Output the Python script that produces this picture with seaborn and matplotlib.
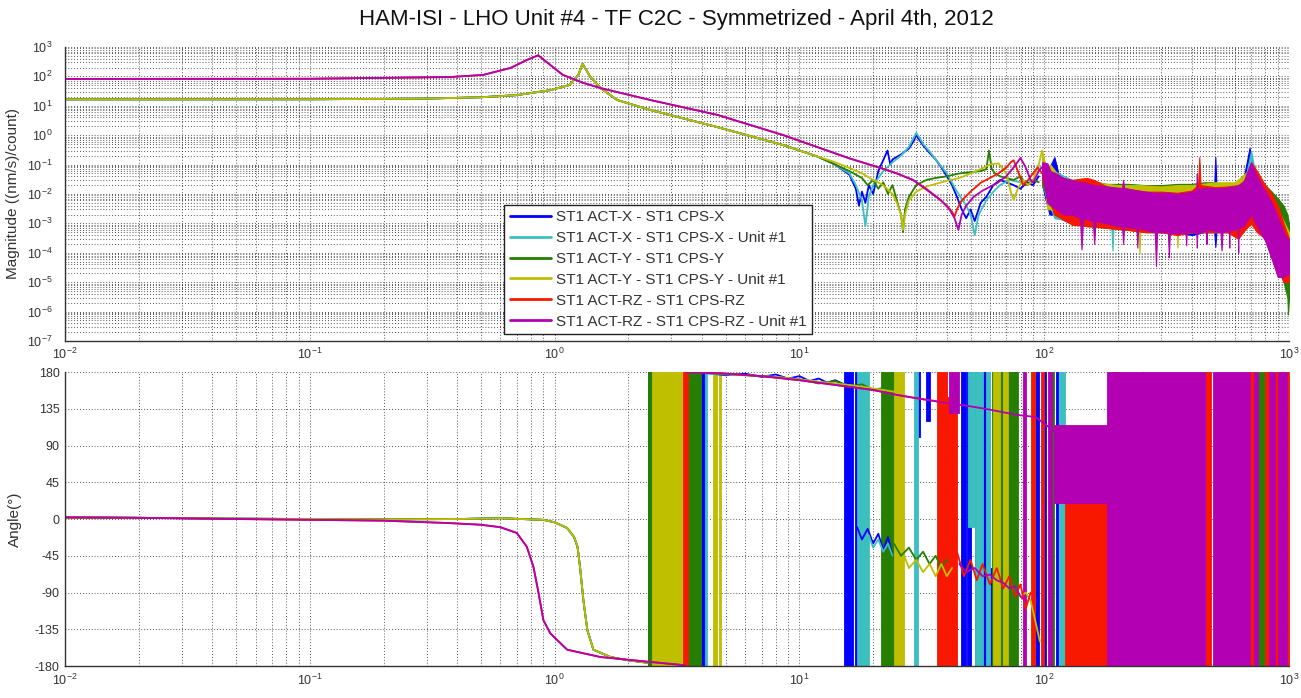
import numpy as np
import matplotlib
matplotlib.use("Agg")
import matplotlib.pyplot as plt
from matplotlib.ticker import LogLocator, FixedLocator, NullFormatter
from matplotlib.lines import Line2D
import seaborn as sns

sns.set_theme(style="white")
plt.rcParams['font.family'] = ['Liberation Sans', 'DejaVu Sans']
plt.rcParams['mathtext.default'] = 'regular'
plt.rcParams['axes.unicode_minus'] = False

# ---- series ----
labels = ["ST1 ACT-X - ST1 CPS-X", "ST1 ACT-X - ST1 CPS-X - Unit #1",
          "ST1 ACT-Y - ST1 CPS-Y", "ST1 ACT-Y - ST1 CPS-Y - Unit #1",
          "ST1 ACT-RZ - ST1 CPS-RZ", "ST1 ACT-RZ - ST1 CPS-RZ - Unit #1"]
colors = ["#0000ff", "#3bbfbf", "#267f00", "#bfbf00", "#f81800", "#b300b3"]

# ---- axis ticks ----
freq_ticks = [1e-2, 1e-1, 1e0, 1e1, 1e2, 1e3]
mag_ticks = [1e-7, 1e-6, 1e-5, 1e-4, 1e-3, 1e-2, 1e-1, 1e0, 1e1, 1e2, 1e3]
phase_ticks = [-180, -135, -90, -45, 0, 45, 90, 135, 180]

# ---- magnitude, shared low-frequency part (Hz, (nm/s)/count) ----
xy_mag_f = [0.01, 0.1, 0.3, 0.5, 0.7, 0.96, 1.15, 1.25, 1.3, 1.4, 1.54, 1.8, 2.46, 4.6, 8.6, 11.8]
xy_mag = [16.5, 16.6, 17.5, 19.5, 23, 34, 51, 112, 270, 95, 40, 15.7, 7.2, 1.9, 0.46, 0.19]
rz_mag_f = [0.01, 0.1, 0.374, 0.51, 0.66, 0.77, 0.857, 0.96, 1.08, 1.31, 1.54, 2.46, 4.62, 8.6, 16.1]
rz_mag = [82, 83, 95, 112, 193, 361, 520, 244, 112, 60, 40, 15.7, 4.9, 1.0, 0.16]

# ---- magnitude, 14-100 Hz ----
blue_mid_f = [14, 16, 17, 17.5, 18, 18.6, 19.2, 20, 21, 22.9, 23.5, 24, 26, 28, 29.5, 30, 30.5, 32, 34, 36,
              38, 40, 42, 44, 46, 48, 50, 52, 55, 58, 62, 66, 70, 75, 80, 85, 90, 95]
blue_mid = [0.1, 0.045, 0.015, 0.004, 0.012, 0.005, 0.02, 0.01, 0.06, 0.3, 0.1, 0.15, 0.22, 0.35, 0.7, 1.1,
            0.8, 0.45, 0.25, 0.15, 0.08, 0.04, 0.02, 0.008, 0.003, 0.0015, 0.003, 0.0012, 0.005, 0.008, 0.02,
            0.03, 0.025, 0.02, 0.015, 0.025, 0.02, 0.04]
cyan_mid_f = [14, 16, 17, 18, 18.6, 19.2, 20, 22, 24, 26, 28, 30, 31, 32, 34, 36, 40, 44, 48, 50, 52, 54,
              58, 62, 66, 72, 80, 90]
cyan_mid = [0.1, 0.05, 0.02, 0.006, 0.0008, 0.008, 0.02, 0.06, 0.12, 0.2, 0.4, 1.2, 0.8, 0.5, 0.28, 0.15,
            0.05, 0.012, 0.004, 0.002, 0.0004, 0.002, 0.006, 0.012, 0.02, 0.03, 0.025, 0.03]
green_mid_f = [14, 16, 18, 19, 20, 21, 22, 23, 24, 25, 26, 26.5, 27, 28, 30, 33, 36, 40, 45, 50, 55, 58,
               59.5, 61, 63, 66, 70, 75, 80, 85, 90, 95]
green_mid = [0.1, 0.06, 0.035, 0.02, 0.03, 0.015, 0.025, 0.01, 0.02, 0.006, 0.002, 0.0005, 0.003, 0.008,
             0.02, 0.03, 0.035, 0.04, 0.05, 0.055, 0.06, 0.07, 0.3, 0.07, 0.05, 0.04, 0.035, 0.03, 0.04,
             0.02, 0.03, 0.025]
yellow_mid_f = [14, 16, 18, 20, 22, 24, 25, 26, 26.5, 27, 28, 30, 33, 36, 40, 45, 50, 55, 60, 65, 70, 73,
                75, 78, 82, 86, 90, 95, 98]
yellow_mid = [0.12, 0.077, 0.05, 0.03, 0.02, 0.01, 0.005, 0.002, 0.0006, 0.002, 0.006, 0.012, 0.018, 0.022,
              0.028, 0.035, 0.05, 0.07, 0.1, 0.11, 0.05, 0.012, 0.0063, 0.015, 0.03, 0.02, 0.03, 0.1, 0.3]
red_mid_f = [21.4, 25, 29, 33, 37, 40, 42, 43, 44, 46, 50, 55, 60, 65, 70, 73, 75, 78, 82, 86, 90, 94, 98]
red_mid = [0.077, 0.05, 0.03, 0.015, 0.007, 0.004, 0.0025, 0.0017, 0.003, 0.006, 0.012, 0.024, 0.035, 0.05,
           0.08, 0.12, 0.14, 0.06, 0.02, 0.03, 0.05, 0.08, 0.05]
magenta_mid_f = [21.4, 25, 29.2, 33, 37.7, 41, 43, 44.6, 46, 48, 51.4, 56, 64.4, 70, 75, 80, 84, 88, 90, 95, 100]
magenta_mid = [0.077, 0.05, 0.03, 0.014, 0.0063, 0.003, 0.0015, 0.0006, 0.002, 0.004, 0.0079, 0.013, 0.0237,
               0.04, 0.08, 0.168, 0.08, 0.03, 0.024, 0.06, 0.1]

# ---- magnitude, noisy 100-1000 Hz envelopes ----
blue_band_f = [98, 105, 110, 115, 130, 160, 200, 260, 300, 350, 400, 450, 495, 500, 505, 540, 600, 650, 690,
               710, 730, 800, 900, 1000]
blue_band_lo = [0.02, 0.002, 0.002, 0.0015, 0.001, 0.0008, 0.0007, 0.0006, 0.0005, 0.0005, 0.0004, 0.0005,
                0.0005, 0.00016, 0.0005, 0.0005, 0.0005, 0.0007, 0.001, 0.001, 0.0008, 0.0003, 0.00002, 0.00002]
blue_band_hi = [0.05, 0.08, 0.18, 0.04, 0.025, 0.02, 0.016, 0.013, 0.013, 0.012, 0.014, 0.015, 0.02, 0.18,
                0.02, 0.016, 0.018, 0.03, 0.37, 0.1, 0.05, 0.015, 0.002, 0.0002]
cyan_band_f = [98, 110, 130, 160, 188, 190, 192, 230, 300, 400, 500, 600, 660, 700, 720, 760, 800, 900, 1000]
cyan_band_lo = [0.02, 0.0015, 0.0012, 0.0009, 0.0008, 0.00012, 0.0008, 0.0007, 0.0006, 0.0005, 0.0005,
                0.0006, 0.0008, 0.001, 0.001, 0.0006, 0.0003, 0.00003, 0.00002]
cyan_band_hi = [0.04, 0.06, 0.03, 0.02, 0.016, 0.016, 0.016, 0.014, 0.012, 0.012, 0.014, 0.016, 0.03, 0.3,
                0.08, 0.03, 0.015, 0.002, 0.0003]
green_band_f = [98, 110, 130, 150, 180, 220, 260, 300, 350, 400, 450, 500, 560, 620, 680, 720, 760, 800, 850,
                900, 950, 985, 990, 1000]
green_band_lo = [0.02, 0.002, 0.0012, 0.0008, 0.0007, 0.0006, 0.0005, 0.0005, 0.0006, 0.0005, 0.0006,
                 0.0007, 0.0006, 0.0007, 0.0009, 0.001, 0.0005, 0.0003, 0.0001, 0.00003, 0.00001, 0.000003,
                 0.0000008, 0.000003]
green_band_hi = [0.05, 0.03, 0.025, 0.03, 0.022, 0.022, 0.02, 0.02, 0.022, 0.022, 0.025, 0.025, 0.022, 0.025,
                 0.05, 0.06, 0.03, 0.02, 0.012, 0.007, 0.004, 0.002, 0.0015, 0.001]
yellow_band_f = [98, 103, 106, 115, 130, 145, 160, 200, 243, 245, 247, 300, 348, 350, 352, 400, 500, 600, 680,
                 720, 800, 900, 1000]
yellow_band_lo = [0.1, 0.003, 0.003, 0.002, 0.0015, 0.001, 0.0009, 0.0007, 0.0006, 0.0001, 0.0006, 0.0005,
                  0.0005, 0.00015, 0.0005, 0.0005, 0.0006, 0.0006, 0.0008, 0.001, 0.0003, 0.00003, 0.00002]
yellow_band_hi = [0.3, 0.05, 0.1, 0.04, 0.03, 0.035, 0.025, 0.02, 0.02, 0.02, 0.02, 0.018, 0.02, 0.02, 0.02,
                  0.02, 0.025, 0.025, 0.06, 0.04, 0.015, 0.003, 0.0005]
red_band_f = [98, 110, 130, 150, 160, 180, 220, 260, 300, 350, 400, 425, 430, 435, 500, 560, 620, 660, 700,
              740, 800, 850, 900, 950, 1000]
red_band_lo = [0.03, 0.002, 0.0009, 0.0008, 0.0008, 0.0007, 0.0006, 0.0005, 0.0005, 0.0004, 0.0005, 0.0005,
               0.0005, 0.0005, 0.0005, 0.0005, 0.0003, 0.0006, 0.001, 0.0005, 0.0003, 0.0001, 0.00003,
               0.00001, 0.00001]
red_band_hi = [0.06, 0.04, 0.03, 0.035, 0.03, 0.018, 0.015, 0.012, 0.012, 0.011, 0.013, 0.02, 0.18, 0.02,
               0.017, 0.018, 0.02, 0.03, 0.12, 0.06, 0.02, 0.01, 0.004, 0.001, 0.0003]
magenta_band_f = [98, 103, 106, 112, 120, 130, 140, 142, 144, 158, 160, 162, 180, 200, 208, 210, 212, 230,
                  238, 240, 242, 260, 283, 286, 289, 300, 320, 323, 326, 350, 378, 380, 382, 400, 418, 420,
                  422, 430, 458, 460, 462, 480, 525, 530, 535, 568, 570, 572, 600, 618, 620, 622, 650, 700,
                  730, 800, 850, 900, 950, 1000]
magenta_band_lo = [0.05, 0.005, 0.004, 0.003, 0.002, 0.002, 0.0015, 0.00013, 0.0015, 0.0012, 0.0002, 0.0012,
                   0.001, 0.0008, 0.0008, 0.0002, 0.0008, 0.0007, 0.0007, 0.00015, 0.0007, 0.0006, 0.0005,
                   0.000035, 0.0005, 0.0005, 0.0005, 0.00007, 0.0005, 0.00045, 0.0005, 0.00018, 0.0005,
                   0.0005, 0.0005, 0.00015, 0.0005, 0.0005, 0.0006, 0.0002, 0.0006, 0.0006, 0.0005, 0.00012,
                   0.0005, 0.0006, 0.00015, 0.0006, 0.0006, 0.0007, 0.0001, 0.0007, 0.0008, 0.002, 0.001,
                   0.00025, 0.00006, 0.000015, 0.000015, 0.00002]
magenta_band_hi = [0.12, 0.11, 0.06, 0.05, 0.035, 0.03, 0.025, 0.025, 0.025, 0.02, 0.02, 0.02, 0.018, 0.016,
                   0.016, 0.03, 0.016, 0.014, 0.013, 0.013, 0.013, 0.012, 0.011, 0.011, 0.011, 0.011, 0.011,
                   0.011, 0.011, 0.01, 0.011, 0.011, 0.011, 0.012, 0.014, 0.05, 0.014, 0.015, 0.016, 0.016,
                   0.016, 0.016, 0.016, 0.016, 0.016, 0.017, 0.017, 0.017, 0.018, 0.02, 0.02, 0.02, 0.025,
                   0.12, 0.05, 0.012, 0.005, 0.0016, 0.0005, 0.00025]

# ---- phase (deg), clean low-frequency part ----
xy_ph_f = [0.01, 0.02, 0.05, 0.1, 0.2, 0.4, 0.6, 0.9, 1.0, 1.125, 1.2, 1.24, 1.27, 1.31, 1.36, 1.44, 1.69,
           2.0, 2.4]
xy_ph = [2, 1.5, 0.5, 0, -0.5, 0, 1, -1, -4, -11, -22, -34, -59, -99, -136, -160, -169, -173, -176]
rz_ph_f = [0.01, 0.02, 0.05, 0.1, 0.2, 0.374, 0.5, 0.6, 0.7, 0.77, 0.82, 0.86, 0.9, 0.96, 1.125, 1.54, 2.46, 3.4]
rz_ph = [2, 1.5, 0, -1, -2, -5, -7, -10, -17, -34, -59, -91, -124, -140, -160, -169, -175, -179]

# ---- phase after wrapping, upper branch ----
blue_top_f = [4.12, 5, 6, 7, 8, 9, 10, 11, 12, 13, 14, 15.2]
blue_top = [179, 176, 178, 174, 177, 172, 175, 169, 172, 167, 170, 165]
cyan_top_f = [4.2, 6, 8, 10, 12, 14, 16, 17.2]
cyan_top = [178, 176, 174, 171, 168, 166, 164, 163]
green_top_f = [3.98, 5, 7, 10, 12, 14, 16, 18, 20, 21.5]
green_top = [179, 178, 175, 171, 166, 169, 162, 165, 158, 160]
yellow_top_f = [4.8, 6, 8, 10, 12, 15, 18, 20, 22, 24.3]
yellow_top = [178, 176, 174, 171, 168, 165, 162, 160, 158, 156]
red_top_f = [3.5, 5, 7, 10, 15, 20, 25, 30, 36.6]
red_top = [180, 178, 175, 170, 163, 158, 152, 148, 144]
magenta_top_f = [3.45, 5, 7, 10, 15, 20, 25, 30, 40, 50, 60, 70, 80, 92, 105, 125]
magenta_top = [180, 178, 175, 170, 163, 158, 152, 148, 142, 138, 134, 130, 127, 125, 112, 97]

# ---- phase, lower branches ----
blue_low_f = [17.2, 18, 19, 20, 21, 22, 23, 24]
blue_low = [-10, -25, -12, -30, -18, -38, -22, -45]
cyan_low_f = [19.2, 20, 21, 22, 23, 24]
cyan_low = [-20, -35, -25, -40, -30, -45]
green_low_f = [24.3, 26, 28, 30, 32, 34, 36, 38, 40]
green_low = [-30, -45, -35, -50, -40, -55, -45, -60, -50]
yellow_low_f = [26.8, 28, 30, 32, 34, 36, 38, 40, 42, 76, 80, 84, 88, 92, 96]
yellow_low = [-45, -60, -50, -65, -55, -70, -55, -70, -60, np.nan, -95, -90, -100, -125, -150]
red_low_f = [44, 47, 50, 53, 56, 60, 64, 68, 72, 76, 80, 84, 88]
red_low = [-40, -70, -50, -75, -55, -80, -60, -85, -70, -95, -80, -110, -90]
magenta_low_f = [45, 48, 52, 56, 60, 64, 68, 72, 76, 80, 84]
magenta_low = [-55, -65, -60, -70, -68, -75, -78, -85, -82, -95, -100]

# ---- phase, wrapped regions: (f start, f end, lower deg, upper deg) ----
blue_ph_bands = [(2.40, 2.48, -180, 180), (3.98, 4.12, -180, 180), (15.2, 16.6, -180, 180),
                 (16.8, 17.2, -180, 180), (30, 31, 100, 180), (33, 34, 120, 180), (45.5, 48, -180, 180),
                 (48.5, 50, -180, 180), (52, 53, -180, 180), (56, 58, -180, 180), (57, 62, -180, -60),
                 (64, 66, -180, 180), (70, 72, -180, 180), (74, 77, -180, 180), (92, 95, -180, 180),
                 (100, 102, -180, 180), (112, 114, -180, 180), (250, 253, -180, 180), (920, 935, -180, 180)]
cyan_ph_bands = [(2.48, 2.52, -180, 180), (3.60, 3.64, -180, 180), (3.84, 3.88, -180, 180),
                 (4.12, 4.2, -180, 180), (17.2, 19.2, -180, 180), (29.5, 30.5, -180, 180),
                 (49, 52, -10, 180), (52, 56, -180, 180), (58, 60, -180, 180), (90, 92, -180, 180),
                 (115, 122, -180, 180)]
green_ph_bands = [(2.40, 2.52, -180, 180), (3.50, 3.98, -180, 180), (21.5, 24.3, -180, 180),
                  (61, 64, -180, 180), (66, 68, -180, 180), (72, 78, -180, 180), (105, 110, -180, 180),
                  (190, 200, -180, 180), (745, 800, -180, 180)]
yellow_ph_bands = [(2.50, 3.33, -180, 180), (4.45, 4.6, -180, 180), (4.7, 4.8, -180, 180),
                   (24.3, 26.8, -180, 180), (62, 66, -180, 180), (68, 71, -180, 180), (180, 200, -180, 100)]
red_ph_bands = [(3.33, 3.50, -180, 180), (36.6, 40.2, -180, 180), (40.2, 44, -180, 150),
                (88, 92, -180, 180), (97, 100, -180, 180), (122, 180, -180, 30), (455, 478, -180, 180),
                (690, 720, -180, 180), (800, 830, -180, 180), (880, 905, -180, 180), (985, 1000, -180, 180)]
magenta_ph_bands = [(41, 45, 130, 180), (82, 84, -180, 180), (104, 108, -180, 180), (110, 180, 20, 115),
                    (180, 455, -180, 180), (490, 690, -180, 180), (720, 745, -180, 180),
                    (830, 880, -180, 180), (905, 985, -180, 180)]

mag_data = [
    (xy_mag_f + blue_mid_f, xy_mag + blue_mid, blue_band_f, blue_band_lo, blue_band_hi),
    (xy_mag_f + cyan_mid_f, xy_mag + cyan_mid, cyan_band_f, cyan_band_lo, cyan_band_hi),
    (xy_mag_f + green_mid_f, xy_mag + green_mid, green_band_f, green_band_lo, green_band_hi),
    (xy_mag_f + yellow_mid_f, xy_mag + yellow_mid, yellow_band_f, yellow_band_lo, yellow_band_hi),
    (rz_mag_f + red_mid_f, rz_mag + red_mid, red_band_f, red_band_lo, red_band_hi),
    (rz_mag_f + magenta_mid_f, rz_mag + magenta_mid, magenta_band_f, magenta_band_lo, magenta_band_hi),
]
ph_data = [
    ([(xy_ph_f, xy_ph), (blue_top_f, blue_top), (blue_low_f, blue_low)], blue_ph_bands),
    ([(xy_ph_f, xy_ph), (cyan_top_f, cyan_top), (cyan_low_f, cyan_low)], cyan_ph_bands),
    ([(xy_ph_f, xy_ph), (green_top_f, green_top), (green_low_f, green_low)], green_ph_bands),
    ([(xy_ph_f, xy_ph), (yellow_top_f, yellow_top), (yellow_low_f, yellow_low)], yellow_ph_bands),
    ([(rz_ph_f, rz_ph), (red_top_f, red_top), (red_low_f, red_low)], red_ph_bands),
    ([(rz_ph_f, rz_ph), (magenta_top_f, magenta_top), (magenta_low_f, magenta_low)], magenta_ph_bands),
]

fig = plt.figure(figsize=(13.01, 6.98), dpi=100)
ax_mag = fig.add_axes([0.05, 0.5115, 0.9408, 0.4212])
ax_ph = fig.add_axes([0.05, 0.0458, 0.9408, 0.4212])

ax_mag.set_xscale("log")
ax_mag.set_yscale("log")
ax_ph.set_xscale("log")

lw = 1.3
for color, (f, m, bf, blo, bhi) in zip(colors, mag_data):
    sns.lineplot(x=f, y=m, ax=ax_mag, color=color, lw=lw, sort=False, estimator=None, legend=False)
    ax_mag.fill_between(bf, blo, bhi, facecolor=color, edgecolor=color, lw=0.8)

for color, (segs, bands) in zip(colors, ph_data):
    for f, p in segs:
        ax_ph.plot(f, p, color=color, lw=lw)
    for f0, f1, lo, hi in bands:
        ax_ph.fill_between([f0, f1], [lo, lo], [hi, hi], facecolor=color, edgecolor=color, lw=0.6)

# axes styling, MATLAB-like
grid_kw = dict(ls=(0, (1, 2.5)), color="#202020", lw=0.6)
for ax in (ax_mag, ax_ph):
    ax.set_xlim(0.01, 1000)
    ax.xaxis.set_major_locator(FixedLocator(freq_ticks))
    ax.xaxis.set_minor_locator(LogLocator(base=10, subs=np.arange(2, 10), numticks=100))
    ax.xaxis.set_minor_formatter(NullFormatter())
    ax.grid(True, which="major", axis="x", **grid_kw)
    ax.grid(True, which="minor", axis="x", **grid_kw)
    ax.set_axisbelow(True)
    for s in ("top", "right"):
        ax.spines[s].set_visible(False)
    for s in ("left", "bottom"):
        ax.spines[s].set_color("#333333")
        ax.spines[s].set_linewidth(1.0)
    ax.tick_params(which="major", direction="in", length=9, width=0.8, color="#333333",
                   labelsize=9, labelcolor="#333333", pad=5)
    ax.tick_params(which="minor", direction="in", length=4.5, width=0.6, color="#333333")
    ax.set_xlabel("")

ax_mag.tick_params(axis="x", which="major", pad=4)
ax_mag.tick_params(axis="y", which="major", pad=9)
ax_ph.tick_params(axis="y", which="major", pad=4)

ax_mag.set_ylim(1e-7, 1e3)
ax_mag.yaxis.set_major_locator(FixedLocator(mag_ticks))
ax_mag.yaxis.set_minor_locator(LogLocator(base=10, subs=np.arange(2, 10), numticks=100))
ax_mag.yaxis.set_minor_formatter(NullFormatter())
ax_mag.grid(True, which="major", axis="y", **grid_kw)
ax_mag.grid(True, which="minor", axis="y", **grid_kw)
ax_mag.set_ylabel("Magnitude ((nm/s)/count)", fontsize=11, color="#333333")
ax_mag.yaxis.set_label_coords(-0.037, 0.5)

ax_ph.set_ylim(-180, 180)
ax_ph.yaxis.set_major_locator(FixedLocator(phase_ticks))
ax_ph.grid(True, which="major", axis="y", **grid_kw)
ax_ph.set_ylabel("Angle(°)", fontsize=11, color="#333333")
ax_ph.yaxis.set_label_coords(-0.035, 0.5)

fig.text(0.5196, 1 - 19 / 698, "HAM-ISI - LHO Unit #4 - TF C2C - Symmetrized - April 4th, 2012",
         ha="center", va="center", fontsize=16, color="#111111")

handles = [Line2D([], [], color=c, lw=2) for c in colors]
leg = ax_mag.legend(handles, labels, loc="lower left", bbox_to_anchor=(0.359, 0.024), fontsize=11,
                    frameon=True, fancybox=False, framealpha=1, edgecolor="#222222",
                    handlelength=2.7, handletextpad=0.35, labelspacing=0.45, borderpad=0.35,
                    borderaxespad=0)
leg.get_frame().set_linewidth(1.0)
for t in leg.get_texts():
    t.set_color("#333333")

fig.savefig("out.png", dpi=100, facecolor="white")
